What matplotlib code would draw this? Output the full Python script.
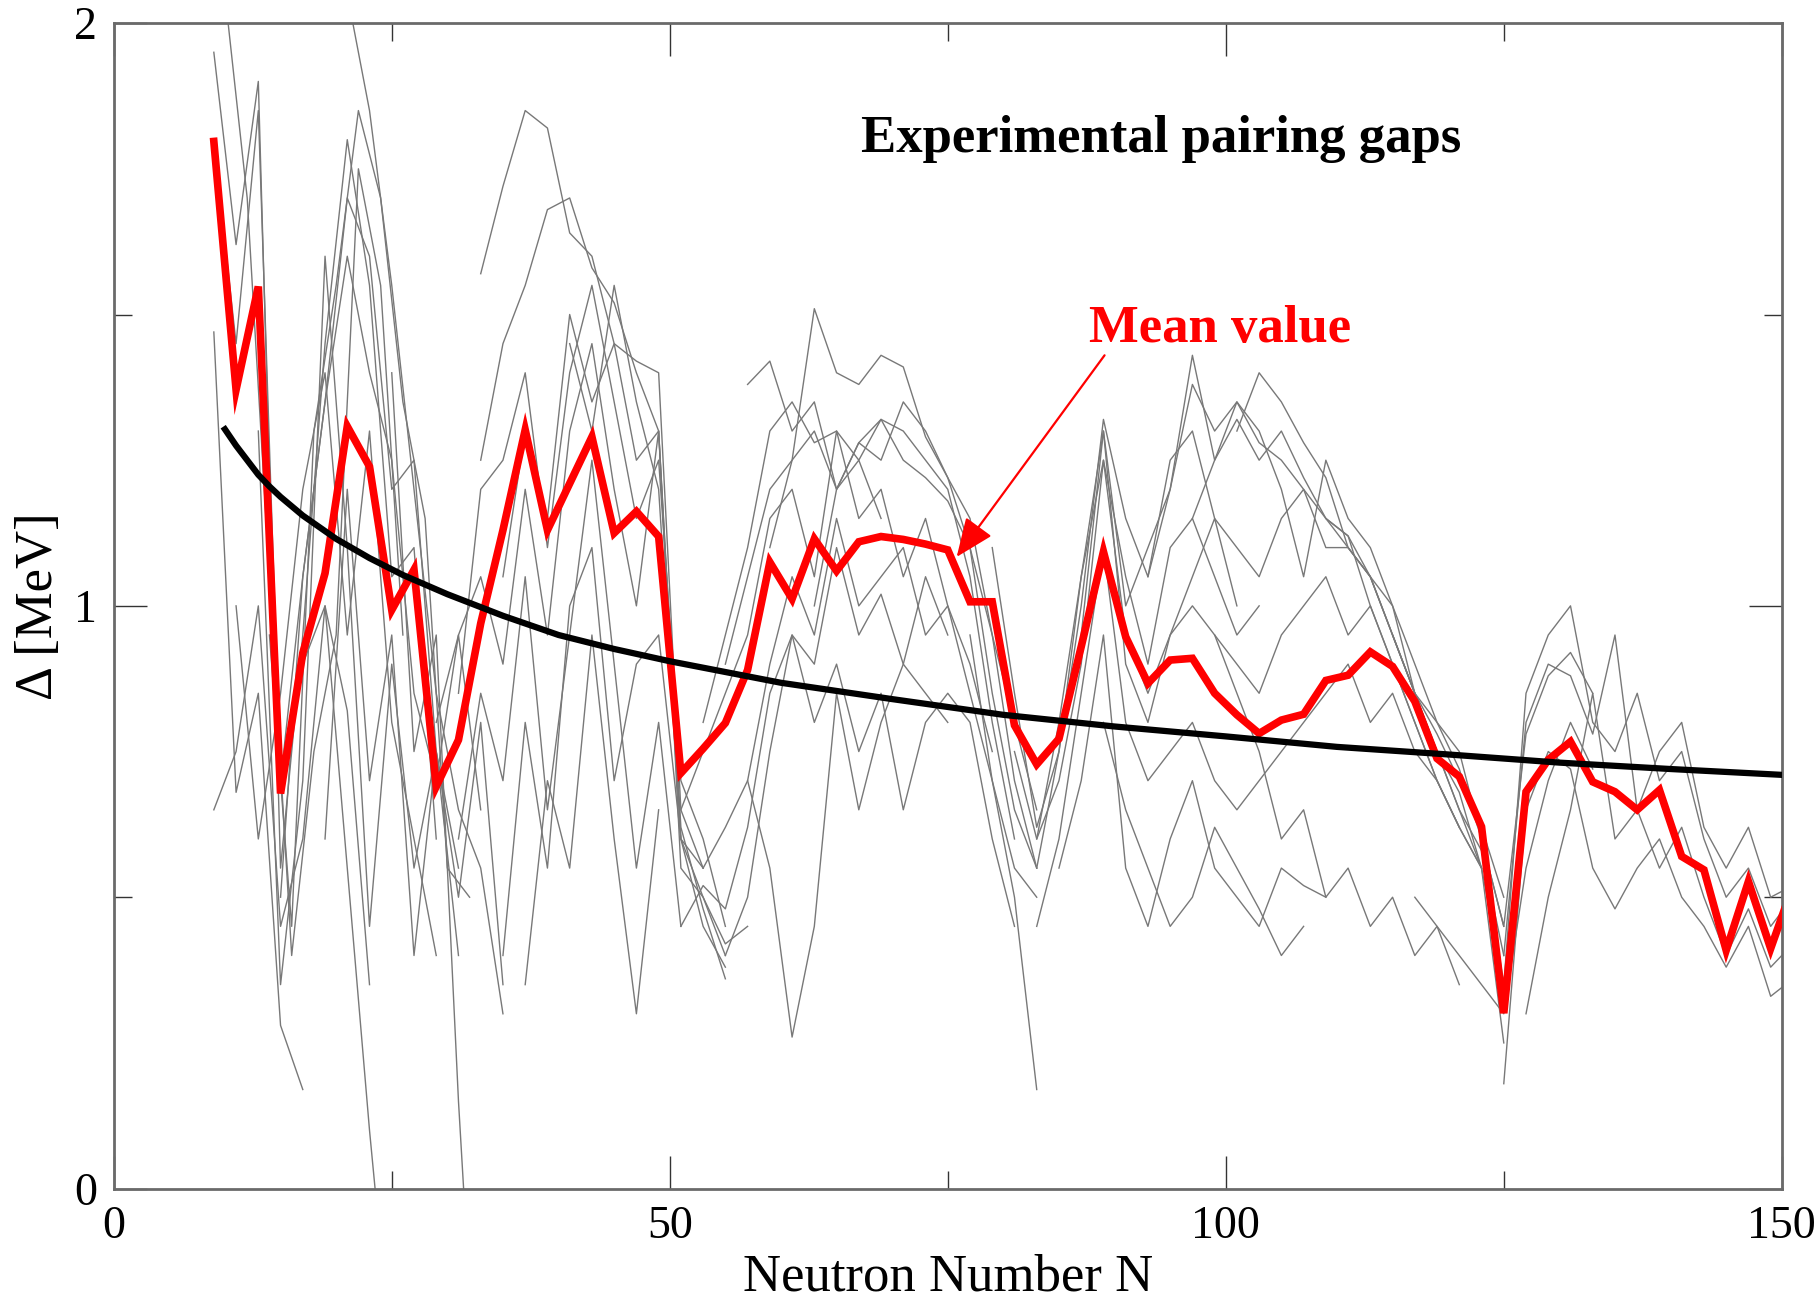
import matplotlib
matplotlib.use("Agg")
import matplotlib.pyplot as plt
from matplotlib.ticker import MultipleLocator

plt.rcParams["font.family"] = ["Liberation Serif", "DejaVu Serif"]

# ---------------------------------------------------------------------------
# Data
# ---------------------------------------------------------------------------
# Mean pairing gap (odd neutron numbers)
mean_n = list(range(9, 152, 2))
mean_gap = [1.797, 1.371, 1.548, 0.678, 0.919, 1.056, 1.308, 1.239, 0.993, 1.062,
            0.690, 0.770, 0.970, 1.130, 1.302, 1.130, 1.210, 1.290, 1.125, 1.162,
            1.119, 0.713, 0.755, 0.799, 0.890, 1.075, 1.012, 1.115, 1.060, 1.110,
            1.119, 1.114, 1.106, 1.096, 1.007, 1.007, 0.795, 0.728, 0.772, 0.930,
            1.093, 0.947, 0.867, 0.907, 0.910, 0.850, 0.813, 0.781, 0.804, 0.814,
            0.872, 0.881, 0.921, 0.896, 0.836, 0.738, 0.707, 0.621, 0.301, 0.681,
            0.736, 0.767, 0.698, 0.681, 0.650, 0.684, 0.570, 0.547, 0.409, 0.527,
            0.412, 0.520]

# Smooth global trend
trend_n = [10, 11, 12, 13, 14, 15, 17, 20, 23, 26, 30, 35, 40, 45, 50,
           60, 70, 80, 90, 100, 110, 120, 130, 140, 150]
trend_gap = [1.303, 1.275, 1.250, 1.225, 1.205, 1.187, 1.155, 1.115, 1.082, 1.053,
             1.020, 0.983, 0.950, 0.926, 0.905, 0.868, 0.840, 0.813, 0.793, 0.776,
             0.758, 0.745, 0.731, 0.720, 0.710]

# Individual isotopic chains: (first N, gaps every second N)
chain_l1 = (9,  [1.95, 1.62, 1.90, 0.55, 0.95, 1.45, 1.80, 1.55, 1.05, 1.10, 0.60])
chain_l2 = (9,  [1.80, 1.45, 1.85, 0.70, 1.05, 1.35, 1.70, 1.60, 1.20, 1.25, 0.75, 0.55])
chain_l3 = (9,  [1.47, 0.68, 0.85, 0.28, 0.17])
chain_l4 = (9,  [0.65, 0.75, 1.00, 0.45, 0.60, 1.00, 0.82, 0.35])
chain_l5 = (10, [2.05, 1.70, 1.05, 0.40, 0.75, 0.95, 1.75, 1.55, 0.95])
chain_l6 = (14, [0.95, 0.45, 1.30, 1.55, 1.85, 1.70, 1.35, 1.15, 0.55, 0.50])
chain_l7 = (17, [0.90, 1.00, 0.55, 0.10, -0.30])
chain_l8 = (25, [1.40, 0.75, 0.95, 0.15, -0.50])
chain_l9 = (21, [2.05, 1.85, 1.55, 1.20, 0.85, 0.65, 0.55, 0.30])
chain_l10 = (11, [1.00, 0.60, 0.85, 1.20, 1.40, 0.95, 1.30, 0.80, 0.60, 0.40])
chain_l11 = (13, [1.30, 0.35, 0.70, 1.60, 1.10, 0.45, 0.90, 0.55, 0.75, 0.40])
chain_l12 = (15, [0.50, 1.05, 1.35, 1.60, 1.40, 1.25, 0.85, 0.70, 0.95, 0.65])
chain_l13 = (19, [0.60, 1.20, 0.70, 0.95, 0.40, 0.75, 0.50, 0.80, 0.35])

chain_m1 = (33, [1.57, 1.72, 1.85, 1.82, 1.64, 1.60, 1.45, 1.42, 1.40, 0.65, 0.55])
chain_m2 = (33, [1.25, 1.45, 1.55, 1.68, 1.70, 1.58, 1.52, 1.40, 1.30, 0.55, 0.50, 0.40])
chain_m3 = (31, [0.85, 1.20, 1.25, 1.40, 1.10, 1.40, 1.55, 1.35, 1.15, 1.25, 0.70, 0.60, 0.45])
chain_m4 = (29, [0.80, 0.95, 1.05, 0.90, 1.20, 0.95, 1.30, 1.45, 1.20, 1.00, 1.30, 0.60, 0.55])
chain_m5 = (31, [0.60, 0.85, 0.70, 1.05, 0.65, 0.95, 1.25, 0.90, 0.55, 0.80, 0.45])
chain_m6 = (35, [0.40, 0.80, 0.55, 1.00, 1.10, 0.70, 0.90, 0.95, 0.60, 0.50, 0.42, 0.45])
chain_m7 = (37, [0.35, 0.70, 0.55, 0.95, 0.60, 0.30, 0.65])
chain_m8 = (41, [1.45, 1.30, 1.55, 1.35, 1.20, 0.60, 0.45, 0.38])
chain_m9 = (35, [1.05, 1.30, 1.15, 1.50, 1.35, 1.45, 1.25, 1.30, 0.62, 0.48, 0.36])

chain_c1 = (55, [0.90, 1.05, 1.20, 1.25, 1.51, 1.40, 1.38, 1.43, 1.41, 1.29, 1.22, 1.15, 0.95, 0.70, 0.55])
chain_c2 = (53, [0.80, 0.95, 1.10, 1.30, 1.35, 1.28, 1.30, 1.25, 1.32, 1.30, 1.25, 1.20, 1.05, 0.80, 0.60])
chain_c3 = (51, [0.65, 0.75, 0.85, 0.95, 1.15, 1.20, 1.05, 1.30, 1.15, 1.20, 1.05, 1.15, 1.00, 0.85, 0.70, 0.55, 0.50])
chain_c4 = (53, [0.55, 0.62, 0.70, 0.90, 1.05, 0.95, 1.15, 1.00, 1.05, 1.10, 0.95, 1.00, 0.90, 0.75])
chain_c5 = (51, [0.45, 0.52, 0.48, 0.62, 0.85, 0.95, 0.90, 1.10, 0.95, 1.02, 0.90, 0.85, 0.80])
chain_c6 = (55, [0.40, 0.50, 0.75, 0.95, 0.80, 0.90, 0.75, 0.85, 0.65, 0.80, 0.85, 0.80, 0.60, 0.45])
chain_c7 = (57, [0.70, 0.55, 0.26, 0.45, 0.85, 0.65, 0.80, 0.90, 1.05, 0.95])
chain_c8 = (57, [1.38, 1.42, 1.30, 1.35, 1.20, 1.25, 1.15])
chain_c9 = (59, [1.10, 1.25, 1.30, 1.20, 1.28, 1.32, 1.25, 1.22, 1.18, 1.10, 0.95, 0.80, 0.65])
chain_c10 = (63, [1.00, 1.20, 1.28, 1.25, 1.35, 1.30, 1.22, 1.10, 0.85, 0.65, 0.55])

chain_d1 = (87, [0.95, 1.30, 1.00, 1.10, 1.20, 1.43, 1.25, 1.35, 1.30, 1.20, 1.05, 1.25, 1.15, 1.10, 1.00, 0.90, 0.80, 0.75, 0.60, 0.45])
chain_d2 = (83, [0.55, 0.75, 1.00, 1.32, 1.15, 1.05, 1.25, 1.30, 1.15, 1.10, 1.05, 1.15, 1.20, 1.10, 1.10, 1.05, 0.95, 0.85, 0.75, 0.65, 0.55])
chain_d3 = (81, [0.75, 0.60, 0.70, 0.90, 1.25, 0.95, 0.85, 0.95, 1.00, 0.95, 0.90, 0.85, 0.95, 1.00, 1.05, 0.95, 1.00, 0.90, 0.80, 0.70, 0.62, 0.55, 0.35])
chain_d4 = (83, [0.45, 0.60, 0.85, 1.10, 0.80, 0.70, 0.75, 0.80, 0.70, 0.65, 0.70, 0.75, 0.80, 0.85, 0.90, 0.80, 0.85, 0.75, 0.70, 0.62, 0.55, 0.25])
chain_d5 = (85, [0.55, 0.70, 0.95, 0.55, 0.45, 0.60, 0.70, 0.55, 0.50, 0.45, 0.55, 0.52, 0.50])
chain_d6 = (77, [0.95, 0.70, 0.50, 0.17])
chain_d7 = (99, [0.95, 0.85, 0.75, 0.60, 0.65, 0.50, 0.55, 0.45, 0.50, 0.40, 0.45, 0.35])
chain_d8 = (101, [1.30, 1.40, 1.35, 1.28, 1.22, 1.10, 1.05, 1.00, 0.85, 0.75, 0.65, 0.58, 0.40])
chain_d9 = (109, [1.15, 1.12, 1.05, 0.95, 0.85, 0.78, 0.70, 0.62, 0.50])
chain_d10 = (79, [1.10, 0.85, 0.62, 0.75, 1.05, 1.30, 0.90, 0.80, 0.95, 1.05, 1.15, 1.00])
chain_d11 = (93, [1.05, 1.20, 1.38, 1.30, 1.35, 1.28, 1.25, 1.20, 1.15, 1.10, 1.05, 0.95, 0.85, 0.75, 0.68, 0.55])
chain_d12 = (97, [1.15, 1.25, 1.32, 1.25, 1.30, 1.22, 1.15, 1.12, 1.00, 0.90, 0.80, 0.70, 0.62])
chain_d13 = (89, [0.80, 0.65, 0.55, 0.45, 0.50, 0.62, 0.55, 0.48, 0.40, 0.45])
chain_d14 = (83, [0.60, 0.80, 1.05, 1.25, 1.05, 0.90, 1.10, 1.15, 1.05, 0.95, 1.00])

chain_e1 = (123, [0.60, 0.35, 0.85, 0.95, 1.00, 0.80, 0.75, 0.85, 0.70, 0.75, 0.60, 0.50, 0.55, 0.45, 0.50])
chain_e2 = (125, [0.40, 0.80, 0.90, 0.88, 0.78, 0.95, 0.65, 0.75, 0.80, 0.62, 0.55, 0.62, 0.50, 0.52])
chain_e3 = (125, [0.18, 0.65, 0.75, 0.72, 0.55, 0.48, 0.55, 0.60, 0.50, 0.45, 0.38, 0.45, 0.33, 0.36])
chain_e4 = (127, [0.30, 0.50, 0.65, 0.85, 0.60, 0.65, 0.55, 0.62, 0.50, 0.40, 0.48, 0.38, 0.42])
chain_e5 = (117, [0.50, 0.45, 0.40, 0.35, 0.30, 0.55, 0.70, 0.80, 0.72])
chain_e6 = (115, [0.95, 0.85, 0.80, 0.72, 0.60, 0.45, 0.78, 0.88, 0.92, 0.85])

chains = [chain_l1, chain_l2, chain_l3, chain_l4, chain_l5, chain_l6, chain_l7,
          chain_l8, chain_l9, chain_l10, chain_l11, chain_l12, chain_l13,
          chain_m1, chain_m2, chain_m3, chain_m4, chain_m5, chain_m6, chain_m7,
          chain_m8, chain_m9,
          chain_c1, chain_c2, chain_c3, chain_c4, chain_c5, chain_c6, chain_c7,
          chain_c8, chain_c9, chain_c10,
          chain_d1, chain_d2, chain_d3, chain_d4, chain_d5, chain_d6, chain_d7,
          chain_d8, chain_d9, chain_d10, chain_d11, chain_d12, chain_d13, chain_d14,
          chain_e1, chain_e2, chain_e3, chain_e4, chain_e5, chain_e6]

# ---------------------------------------------------------------------------
# Figure
# ---------------------------------------------------------------------------
fig = plt.figure(figsize=(18.2, 13.0), dpi=100)
ax = fig.add_axes([0.0625, 0.0857, 0.9165, 0.8965])

for first_n, gaps in chains:
    ns = [first_n + 2 * i for i in range(len(gaps))]
    ax.plot(ns, gaps, color="#787878", lw=1.0, zorder=2)

ax.plot(mean_n, mean_gap, color="#ff0000", lw=5.5, solid_joinstyle="miter",
        zorder=3)
ax.plot(trend_n, trend_gap, color="black", lw=4.5, zorder=4)

ax.set_xlim(0, 150)
ax.set_ylim(0, 2)

ax.xaxis.set_major_locator(MultipleLocator(50))
ax.xaxis.set_minor_locator(MultipleLocator(25))
ax.yaxis.set_major_locator(MultipleLocator(1))
ax.yaxis.set_minor_locator(MultipleLocator(0.5))

ax.tick_params(which="both", direction="in", top=True, right=True,
               color="#333333", width=1.0)
ax.tick_params(which="major", length=24)
ax.tick_params(which="minor", length=13)
ax.tick_params(axis="x", which="major", labelsize=33, pad=12)
ax.tick_params(axis="y", which="major", labelsize=33, pad=12)

for spine in ax.spines.values():
    spine.set_color("#6a6a6a")
    spine.set_linewidth(2.0)

ax.set_xlabel("Neutron Number N", fontsize=38, labelpad=4)
ax.set_ylabel("Δ [MeV]", fontsize=38, labelpad=8)

ax.text(67.2, 1.779, "Experimental pairing gaps", fontsize=38,
        fontweight="bold", color="black", ha="left", va="baseline", zorder=6)
ax.text(87.7, 1.452, "Mean value", fontsize=38, fontweight="bold",
        color="#ff0000", ha="left", va="baseline", zorder=6)
ax.annotate("", xy=(75.8, 1.084), xytext=(89.1, 1.43),
            arrowprops=dict(arrowstyle="-|>,head_length=0.6,head_width=0.25",
                            color="#ff0000", lw=1.6, mutation_scale=40,
                            shrinkA=0, shrinkB=0),
            zorder=6)

fig.savefig("out.png", dpi=100, facecolor="white")
